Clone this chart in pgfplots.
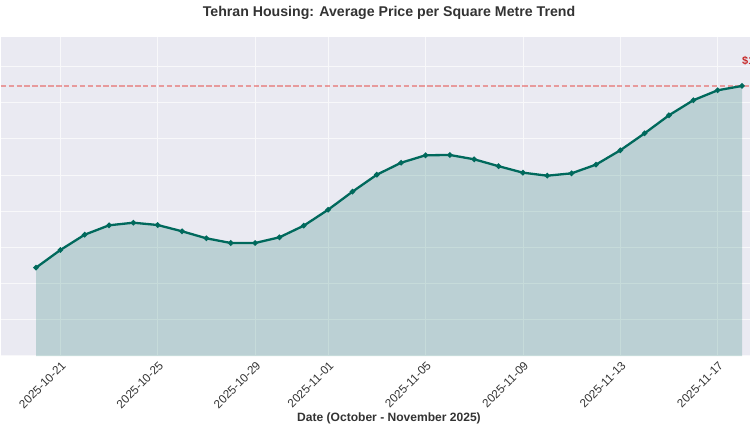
\documentclass[border=0pt]{standalone}
\usepackage{pgfplots}
\usepackage{pgfplotstable}
\pgfplotsset{compat=1.18}
\usepackage{fontspec}
\setmainfont{Liberation Sans}

\definecolor{bgc}{HTML}{EAEAF2}
\definecolor{priceteal}{HTML}{00695C}
\definecolor{refred}{HTML}{C62828}
\definecolor{reflinec}{HTML}{E53935}
\definecolor{ticktext}{HTML}{333333}

% day 0 = 2025-10-20
\pgfplotstableread{
day price
0 1021.6
1 1046.1
2 1067.3
3 1080.3
4 1083.9
5 1080.7
6 1072.0
7 1062.3
8 1055.8
9 1055.8
10 1063.7
11 1079.8
12 1101.9
13 1126.9
14 1150.4
15 1167.0
16 1177.3
17 1177.7
18 1171.7
19 1162.2
20 1153.2
21 1149.0
22 1152.3
23 1164.3
24 1184.2
25 1207.7
26 1232.7
27 1253.5
28 1267.3
29 1273.3
}\pricedata

\begin{document}
\begin{tikzpicture}
\begin{axis}[
    name=ax,
    scale only axis,
    width=776.6bp, height=319bp,
    xmin=-1.45, xmax=30.45,
    ymin=899.3, ymax=1341.1,
    axis background/.style={fill=bgc},
    axis line style={draw=none},
    major tick length=0pt,
    grid=major,
    grid style={white!65!bgc, line width=0.8bp},
    xtick={1,5,9,12,16,20,24,28},
    xticklabels={2025-10-21,2025-10-25,2025-10-29,2025-11-01,2025-11-05,2025-11-09,2025-11-13,2025-11-17},
    ytick={900,950,...,1300},
    yticklabels={},
    /pgf/number format/assume math mode=true,
    xticklabel style={rotate=45, anchor=north east, inner sep=1bp, yshift=-2.5bp, xshift=-2bp,
        font=\fontsize{11.8}{14}\selectfont, text=ticktext},
    title={Tehran Housing: Average Price per Square Metre Trend},
    title style={at={(0.5,1)}, anchor=center, yshift=18bp,
        font=\bfseries\fontsize{14.2}{17}\selectfont, text=ticktext},
    xlabel={Date (October - November 2025)},
    xlabel style={at={(0.5,0)}, anchor=center, yshift=-62bp,
        font=\bfseries\fontsize{12.1}{14}\selectfont, text=ticktext},
]
    % shaded area under the trend
    \addplot[draw=none, fill=priceteal, fill opacity=0.2]
        table[x=day, y=price]{\pricedata} \closedcycle;
    % peak reference line
    \addplot[reflinec, opacity=0.45, line width=1.5bp, dash pattern=on 5.5bp off 2.4bp]
        coordinates {(-1.45,1273.3) (30.45,1273.3)};
    % trend
    \addplot[priceteal, line width=2.3bp, mark=*, mark size=1.4bp, mark options={solid}]
        table[x=day, y=price]{\pricedata};
    \node[anchor=west, inner sep=0pt, text=refred, font=\bfseries\fontsize{11}{13}\selectfont]
        at (axis cs:29,1308) {\$1,273};
\end{axis}
\pgfresetboundingbox
\path[use as bounding box] ([shift={(-0.7bp,-74bp)}]ax.south west) rectangle ([shift={(749.3bp,356bp)}]ax.south west);
\end{tikzpicture}
\end{document}
